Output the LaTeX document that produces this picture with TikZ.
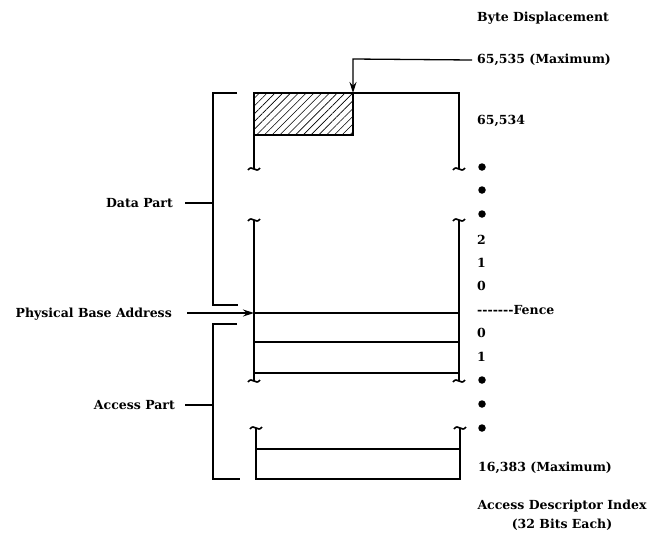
\documentclass[tikz,border=0pt]{standalone}
\usepackage{fontspec}
\setmainfont{DejaVu Serif}
\usetikzlibrary{arrows.meta,positioning,patterns.meta}

% small broken-line mark at the end of a cut wall
\newcommand{\cutmark}[2]{\draw[wall, line width=1.6pt] (#1-6,#2+1) .. controls (#1-2,#2-5) and (#1+2,#2+5) .. (#1+6,#2-1);}

\begin{document}
\begin{tikzpicture}[
    x=1pt, y=-1pt,
    lbl/.style={font=\bfseries\fontsize{12.5}{15}\selectfont, inner sep=0pt},
    side/.style={lbl, anchor=west},
    wall/.style={line width=1.3pt},
    arrow/.style={-{Stealth[length=11pt,width=7pt]}, line width=1.3pt},
    dot/.style={circle, fill, inner sep=0pt, minimum size=7.5pt},
    hatch/.style={pattern={Lines[angle=45,distance=5.5pt,line width=0.6pt]}}
  ]
    \useasboundingbox (0,0) rectangle (651,547);

    % segment box, data part
    \draw[wall, hatch] (254,93) rectangle (353,135);
    \draw[wall] (254,169) -- (254,93) -- (459,93) -- (459,169);
    \cutmark{254}{169}
    \cutmark{459}{169}
    % segment box, middle
    \draw[wall] (254,381) -- (254,220);
    \draw[wall] (459,381) -- (459,220);
    \cutmark{254}{220}
    \cutmark{459}{220}
    \cutmark{254}{381}
    \cutmark{459}{381}
    \draw[wall] (254,313) -- (459,313);
    \draw[wall] (254,342) -- (459,342);
    \draw[wall] (254,373) -- (459,373);
    % segment box, access part end
    \draw[wall] (256,428) -- (256,479) -- (460,479) -- (460,428);
    \cutmark{256}{428}
    \cutmark{460}{428}
    \draw[wall] (256,449) -- (460,449);

    % brackets on the left
    \draw[wall] (237,93) -- (213,93) -- (213,305) -- (238,305);
    \draw[wall] (237,324) -- (213,324) -- (213,479) -- (240,479);
    \coordinate (databr) at (213,203);
    \coordinate (accbr) at (213,405);
    \coordinate (base) at (254,313);
    \coordinate (top) at (353,93);

    \node[lbl, anchor=east] (data) at (173,203) {Data Part};
    \node[lbl, anchor=east] (acc) at (175,405) {Access Part};
    \node[lbl, anchor=east] (phys) at (172,314) {Physical Base Address};
    \draw[wall] (data.east -| 185,0) -- (databr);
    \draw[wall] (acc.east -| 185,0) -- (accbr);
    \draw[arrow] (187,313) -- (base);

    % labels on the right
    \node[side] (bytedisp) at (477,18) {Byte Displacement};
    \node[side] (max) at (477,60) {65,535 (Maximum)};
    \draw[arrow] (max.west -| 472,0) -- (353,59) -- (top);
    \node[side] (n65534) at (477,121) {65,534};
    \node[side] (d2) at (477,240) {2};
    \node[side] (d1) at (477,263) {1};
    \node[side] (d0) at (477,286) {0};
    \node[side] (fence) at (477,310) {-{}-{}-{}-{}-{}-{}-Fence};
    \node[side] (a0) at (477,333) {0};
    \node[side] (a1) at (477,357) {1};
    \node[side] (amax) at (478,468) {16,383 (Maximum)};
    \node[lbl, align=center, anchor=north] (adi) at (562,500) {Access Descriptor Index\\[4pt](32 Bits Each)};
    \foreach \y in {167,190,214,380,404,428}
      \node[dot] at (482,\y) {};
  \end{tikzpicture}
\end{document}
